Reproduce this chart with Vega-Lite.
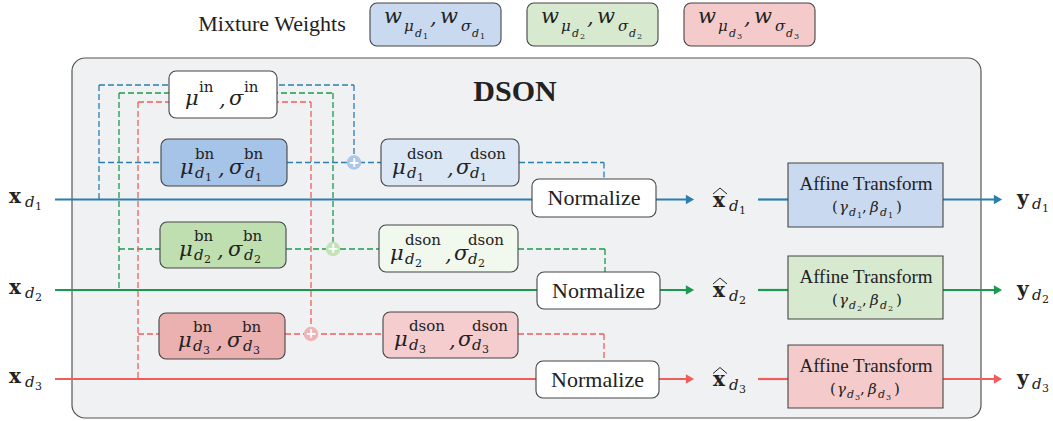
{
  "$schema": "https://vega.github.io/schema/vega-lite/v6.json",
  "width": 1053,
  "height": 421,
  "padding": 0,
  "autosize": {"type": "fit", "contains": "padding"},
  "background": "white",
  "config": {"view": {"stroke": null}, "text": {"font": "Liberation Serif"}},
  "datasets": {
    "panel": [{"x": 72, "x2": 981, "y": 58, "y2": 418}],
    "boxes": [
      {"x": 370, "x2": 501, "y": 3, "y2": 46, "kind": "mix1"},
      {"x": 527, "x2": 658, "y": 3, "y2": 46, "kind": "mix2"},
      {"x": 684, "x2": 815, "y": 3, "y2": 46, "kind": "mix3"},
      {"x": 169, "x2": 277, "y": 71, "y2": 118, "kind": "in"},
      {"x": 161, "x2": 287, "y": 139, "y2": 186, "kind": "bn1"},
      {"x": 160, "x2": 286, "y": 222, "y2": 268, "kind": "bn2"},
      {"x": 159, "x2": 285, "y": 313, "y2": 359, "kind": "bn3"},
      {"x": 381, "x2": 519, "y": 139, "y2": 186, "kind": "dson1"},
      {"x": 379, "x2": 518, "y": 225, "y2": 272, "kind": "dson2"},
      {"x": 383, "x2": 518, "y": 312, "y2": 358, "kind": "dson3"},
      {"x": 532, "x2": 656, "y": 179, "y2": 217, "kind": "norm"},
      {"x": 537, "x2": 660, "y": 272, "y2": 309, "kind": "norm"},
      {"x": 536, "x2": 659, "y": 361, "y2": 398, "kind": "norm"}
    ],
    "affine": [
      {"x": 788, "x2": 943, "y": 163, "y2": 227, "kind": "aff1"},
      {"x": 788, "x2": 943, "y": 256, "y2": 319, "kind": "aff2"},
      {"x": 788, "x2": 943, "y": 345, "y2": 408, "kind": "aff3"}
    ],
    "dash": [
      {"x": 99, "y": 85, "x2": 354, "y2": 85, "s": "b"},
      {"x": 99, "y": 85, "x2": 99, "y2": 199, "s": "b"},
      {"x": 99, "y": 162.5, "x2": 161, "y2": 162.5, "s": "b"},
      {"x": 287, "y": 162.5, "x2": 381, "y2": 162.5, "s": "b"},
      {"x": 354, "y": 85, "x2": 354, "y2": 162.5, "s": "b"},
      {"x": 519, "y": 162.5, "x2": 604, "y2": 162.5, "s": "b"},
      {"x": 604, "y": 162.5, "x2": 604, "y2": 179, "s": "b"},
      {"x": 119, "y": 93, "x2": 333, "y2": 93, "s": "g"},
      {"x": 119, "y": 93, "x2": 119, "y2": 290, "s": "g"},
      {"x": 119, "y": 249, "x2": 160, "y2": 249, "s": "g"},
      {"x": 286, "y": 249, "x2": 379, "y2": 249, "s": "g"},
      {"x": 333, "y": 93, "x2": 333, "y2": 249, "s": "g"},
      {"x": 518, "y": 249, "x2": 605, "y2": 249, "s": "g"},
      {"x": 605, "y": 249, "x2": 605, "y2": 272, "s": "g"},
      {"x": 138, "y": 102, "x2": 311, "y2": 102, "s": "r"},
      {"x": 138, "y": 102, "x2": 138, "y2": 379, "s": "r"},
      {"x": 138, "y": 334, "x2": 159, "y2": 334, "s": "r"},
      {"x": 285, "y": 334, "x2": 383, "y2": 334, "s": "r"},
      {"x": 311, "y": 102, "x2": 311, "y2": 334, "s": "r"},
      {"x": 518, "y": 334, "x2": 604, "y2": 334, "s": "r"},
      {"x": 604, "y": 334, "x2": 604, "y2": 361, "s": "r"}
    ],
    "solid": [
      {"x": 55, "y": 199.5, "x2": 687, "y2": 199.5, "s": "b"},
      {"x": 758, "y": 199.5, "x2": 788, "y2": 199.5, "s": "b"},
      {"x": 943, "y": 199.5, "x2": 995, "y2": 199.5, "s": "b"},
      {"x": 55, "y": 290, "x2": 687, "y2": 290, "s": "g"},
      {"x": 758, "y": 290, "x2": 788, "y2": 290, "s": "g"},
      {"x": 943, "y": 290, "x2": 995, "y2": 290, "s": "g"},
      {"x": 55, "y": 379, "x2": 687, "y2": 379, "s": "r"},
      {"x": 758, "y": 379, "x2": 788, "y2": 379, "s": "r"},
      {"x": 943, "y": 379, "x2": 995, "y2": 379, "s": "r"}
    ],
    "arrows": [
      {"x": 690, "y": 199.5, "s": "b"},
      {"x": 690, "y": 290, "s": "g"},
      {"x": 690, "y": 379, "s": "r"},
      {"x": 998, "y": 199.5, "s": "b"},
      {"x": 998, "y": 290, "s": "g"},
      {"x": 998, "y": 379, "s": "r"}
    ],
    "plus": [
      {"x": 354, "y": 162.5, "s": "b"},
      {"x": 333, "y": 249, "s": "g"},
      {"x": 311, "y": 334, "s": "r"}
    ],
    "hats": [
      {"x": 713, "y": 194, "x2": 720, "y2": 188},
      {"x": 720, "y": 188, "x2": 727, "y2": 194},
      {"x": 713, "y": 284, "x2": 720, "y2": 278},
      {"x": 720, "y": 278, "x2": 727, "y2": 284},
      {"x": 713, "y": 373.5, "x2": 720, "y2": 367.5},
      {"x": 720, "y": 367.5, "x2": 727, "y2": 373.5}
    ],
    "texts": [
      {"x": 272, "y": 31, "t": "Mixture Weights", "r": "lbl"},
      {"x": 515, "y": 101, "t": "DSON", "r": "title"},
      {"x": 594, "y": 205, "t": "Normalize", "r": "lbl"},
      {"x": 598.5, "y": 297.5, "t": "Normalize", "r": "lbl"},
      {"x": 597.5, "y": 386.5, "t": "Normalize", "r": "lbl"},
      {"x": 866, "y": 190, "t": "Affine Transform", "r": "aff"},
      {"x": 866, "y": 282.5, "t": "Affine Transform", "r": "aff"},
      {"x": 866, "y": 371.5, "t": "Affine Transform", "r": "aff"},

      {"x": 384, "y": 23, "t": "w", "r": "m"},
      {"x": 404, "y": 31, "t": "μ", "r": "msub"},
      {"x": 415, "y": 37, "t": "d", "r": "msub2"},
      {"x": 423, "y": 39, "t": "1", "r": "mss2"},
      {"x": 430, "y": 24, "t": ",", "r": "m"},
      {"x": 440, "y": 23, "t": "w", "r": "m"},
      {"x": 461, "y": 31, "t": "σ", "r": "msub"},
      {"x": 472, "y": 37, "t": "d", "r": "msub2"},
      {"x": 480, "y": 39, "t": "1", "r": "mss2"},
      {"x": 541, "y": 23, "t": "w", "r": "m"},
      {"x": 561, "y": 31, "t": "μ", "r": "msub"},
      {"x": 572, "y": 37, "t": "d", "r": "msub2"},
      {"x": 580, "y": 39, "t": "2", "r": "mss2"},
      {"x": 587, "y": 24, "t": ",", "r": "m"},
      {"x": 597, "y": 23, "t": "w", "r": "m"},
      {"x": 618, "y": 31, "t": "σ", "r": "msub"},
      {"x": 629, "y": 37, "t": "d", "r": "msub2"},
      {"x": 637, "y": 39, "t": "2", "r": "mss2"},
      {"x": 698, "y": 23, "t": "w", "r": "m"},
      {"x": 718, "y": 31, "t": "μ", "r": "msub"},
      {"x": 729, "y": 37, "t": "d", "r": "msub2"},
      {"x": 737, "y": 39, "t": "3", "r": "mss2"},
      {"x": 744, "y": 24, "t": ",", "r": "m"},
      {"x": 754, "y": 23, "t": "w", "r": "m"},
      {"x": 775, "y": 31, "t": "σ", "r": "msub"},
      {"x": 786, "y": 37, "t": "d", "r": "msub2"},
      {"x": 794, "y": 39, "t": "3", "r": "mss2"},

      {"x": 185, "y": 105, "t": "μ", "r": "m"},
      {"x": 199, "y": 92, "t": "in", "r": "mup"},
      {"x": 219, "y": 106, "t": ",", "r": "m"},
      {"x": 229, "y": 105, "t": "σ", "r": "m"},
      {"x": 244, "y": 92, "t": "in", "r": "mup"},

      {"x": 180, "y": 173.5, "t": "μ", "r": "m"},
      {"x": 195, "y": 158.5, "t": "bn", "r": "mup"},
      {"x": 195, "y": 177.5, "t": "d", "r": "msub"},
      {"x": 205, "y": 180.5, "t": "1", "r": "mss"},
      {"x": 218, "y": 174.5, "t": ",", "r": "m"},
      {"x": 229, "y": 173.5, "t": "σ", "r": "m"},
      {"x": 244, "y": 158.5, "t": "bn", "r": "mup"},
      {"x": 245, "y": 177.5, "t": "d", "r": "msub"},
      {"x": 255, "y": 180.5, "t": "1", "r": "mss"},
      {"x": 179, "y": 256, "t": "μ", "r": "m"},
      {"x": 194, "y": 241, "t": "bn", "r": "mup"},
      {"x": 194, "y": 260, "t": "d", "r": "msub"},
      {"x": 204, "y": 263, "t": "2", "r": "mss"},
      {"x": 217, "y": 257, "t": ",", "r": "m"},
      {"x": 228, "y": 256, "t": "σ", "r": "m"},
      {"x": 243, "y": 241, "t": "bn", "r": "mup"},
      {"x": 244, "y": 260, "t": "d", "r": "msub"},
      {"x": 254, "y": 263, "t": "2", "r": "mss"},
      {"x": 178, "y": 347, "t": "μ", "r": "m"},
      {"x": 193, "y": 332, "t": "bn", "r": "mup"},
      {"x": 193, "y": 351, "t": "d", "r": "msub"},
      {"x": 203, "y": 354, "t": "3", "r": "mss"},
      {"x": 216, "y": 348, "t": ",", "r": "m"},
      {"x": 227, "y": 347, "t": "σ", "r": "m"},
      {"x": 242, "y": 332, "t": "bn", "r": "mup"},
      {"x": 243, "y": 351, "t": "d", "r": "msub"},
      {"x": 253, "y": 354, "t": "3", "r": "mss"},

      {"x": 392, "y": 173.5, "t": "μ", "r": "m"},
      {"x": 407, "y": 158.5, "t": "dson", "r": "mup"},
      {"x": 407, "y": 177.5, "t": "d", "r": "msub"},
      {"x": 417, "y": 180.5, "t": "1", "r": "mss"},
      {"x": 447, "y": 174.5, "t": ",", "r": "m"},
      {"x": 456, "y": 173.5, "t": "σ", "r": "m"},
      {"x": 470, "y": 158.5, "t": "dson", "r": "mup"},
      {"x": 470, "y": 177.5, "t": "d", "r": "msub"},
      {"x": 480, "y": 180.5, "t": "1", "r": "mss"},
      {"x": 390, "y": 259.5, "t": "μ", "r": "m"},
      {"x": 405, "y": 244.5, "t": "dson", "r": "mup"},
      {"x": 405, "y": 263.5, "t": "d", "r": "msub"},
      {"x": 415, "y": 266.5, "t": "2", "r": "mss"},
      {"x": 445, "y": 260.5, "t": ",", "r": "m"},
      {"x": 454, "y": 259.5, "t": "σ", "r": "m"},
      {"x": 468, "y": 244.5, "t": "dson", "r": "mup"},
      {"x": 468, "y": 263.5, "t": "d", "r": "msub"},
      {"x": 478, "y": 266.5, "t": "2", "r": "mss"},
      {"x": 394, "y": 346, "t": "μ", "r": "m"},
      {"x": 409, "y": 331, "t": "dson", "r": "mup"},
      {"x": 409, "y": 350, "t": "d", "r": "msub"},
      {"x": 419, "y": 353, "t": "3", "r": "mss"},
      {"x": 449, "y": 347, "t": ",", "r": "m"},
      {"x": 458, "y": 346, "t": "σ", "r": "m"},
      {"x": 472, "y": 331, "t": "dson", "r": "mup"},
      {"x": 472, "y": 350, "t": "d", "r": "msub"},
      {"x": 482, "y": 353, "t": "3", "r": "mss"},

      {"x": 9, "y": 203, "t": "x", "r": "vec"},
      {"x": 25, "y": 207, "t": "d", "r": "msub"},
      {"x": 35, "y": 210, "t": "1", "r": "mss"},
      {"x": 9, "y": 294, "t": "x", "r": "vec"},
      {"x": 25, "y": 298, "t": "d", "r": "msub"},
      {"x": 35, "y": 301, "t": "2", "r": "mss"},
      {"x": 9, "y": 383, "t": "x", "r": "vec"},
      {"x": 25, "y": 387, "t": "d", "r": "msub"},
      {"x": 35, "y": 390, "t": "3", "r": "mss"},

      {"x": 713, "y": 206.7, "t": "x", "r": "vec"},
      {"x": 729, "y": 210.7, "t": "d", "r": "msub"},
      {"x": 739, "y": 213.7, "t": "1", "r": "mss"},
      {"x": 713, "y": 296.5, "t": "x", "r": "vec"},
      {"x": 729, "y": 300.5, "t": "d", "r": "msub"},
      {"x": 739, "y": 303.5, "t": "2", "r": "mss"},
      {"x": 713, "y": 386, "t": "x", "r": "vec"},
      {"x": 729, "y": 390, "t": "d", "r": "msub"},
      {"x": 739, "y": 393, "t": "3", "r": "mss"},

      {"x": 1017, "y": 205, "t": "y", "r": "vec"},
      {"x": 1032, "y": 209, "t": "d", "r": "msub"},
      {"x": 1042, "y": 212, "t": "1", "r": "mss"},
      {"x": 1017, "y": 295.5, "t": "y", "r": "vec"},
      {"x": 1032, "y": 299.5, "t": "d", "r": "msub"},
      {"x": 1042, "y": 302.5, "t": "2", "r": "mss"},
      {"x": 1017, "y": 384.5, "t": "y", "r": "vec"},
      {"x": 1032, "y": 388.5, "t": "d", "r": "msub"},
      {"x": 1042, "y": 391.5, "t": "3", "r": "mss"},

      {"x": 832, "y": 212, "t": "(", "r": "p"},
      {"x": 839, "y": 212, "t": "γ", "r": "pi"},
      {"x": 849, "y": 216, "t": "d", "r": "msub2"},
      {"x": 857, "y": 218, "t": "1", "r": "mss2"},
      {"x": 862, "y": 212, "t": ",", "r": "p"},
      {"x": 870, "y": 212, "t": "β", "r": "pi"},
      {"x": 880, "y": 216, "t": "d", "r": "msub2"},
      {"x": 888, "y": 218, "t": "1", "r": "mss2"},
      {"x": 896, "y": 212, "t": ")", "r": "p"},
      {"x": 832, "y": 304.5, "t": "(", "r": "p"},
      {"x": 839, "y": 304.5, "t": "γ", "r": "pi"},
      {"x": 849, "y": 308.5, "t": "d", "r": "msub2"},
      {"x": 857, "y": 310.5, "t": "2", "r": "mss2"},
      {"x": 862, "y": 304.5, "t": ",", "r": "p"},
      {"x": 870, "y": 304.5, "t": "β", "r": "pi"},
      {"x": 880, "y": 308.5, "t": "d", "r": "msub2"},
      {"x": 888, "y": 310.5, "t": "2", "r": "mss2"},
      {"x": 896, "y": 304.5, "t": ")", "r": "p"},
      {"x": 830, "y": 393.5, "t": "(", "r": "p"},
      {"x": 837, "y": 393.5, "t": "γ", "r": "pi"},
      {"x": 847, "y": 397.5, "t": "d", "r": "msub2"},
      {"x": 855, "y": 399.5, "t": "3", "r": "mss2"},
      {"x": 860, "y": 393.5, "t": ",", "r": "p"},
      {"x": 868, "y": 393.5, "t": "β", "r": "pi"},
      {"x": 878, "y": 397.5, "t": "d", "r": "msub2"},
      {"x": 886, "y": 399.5, "t": "3", "r": "mss2"},
      {"x": 894, "y": 393.5, "t": ")", "r": "p"}
    ]
  },
  "encoding": {
    "x": {"field": "x", "type": "quantitative", "scale": {"domain": [0, 1053], "nice": false, "zero": false}, "axis": null},
    "y": {"field": "y", "type": "quantitative", "scale": {"domain": [0, 421], "reverse": true, "nice": false, "zero": false}, "axis": null}
  },
  "layer": [
    {
      "data": {"name": "panel"},
      "mark": {"type": "rect", "fill": "#f0f1f3", "stroke": "#555555", "strokeWidth": 1.2, "cornerRadius": 13},
      "encoding": {"x2": {"field": "x2"}, "y2": {"field": "y2"}}
    },
    {
      "data": {"name": "dash"},
      "mark": {"type": "rule", "strokeWidth": 1.3, "strokeDash": [6, 3]},
      "encoding": {
        "x2": {"field": "x2"}, "y2": {"field": "y2"},
        "stroke": {"field": "s", "type": "nominal", "scale": {"domain": ["b", "g", "r"], "range": ["#2a7fad", "#1a9a4e", "#ef5d5d"]}, "legend": null}
      }
    },
    {
      "data": {"name": "solid"},
      "mark": {"type": "rule", "strokeWidth": 2.2},
      "encoding": {
        "x2": {"field": "x2"}, "y2": {"field": "y2"},
        "stroke": {"field": "s", "type": "nominal", "scale": {"domain": ["b", "g", "r"], "range": ["#2a7fad", "#1a9a4e", "#ef5d5d"]}, "legend": null}
      }
    },
    {
      "data": {"name": "arrows"},
      "mark": {"type": "point", "shape": "triangle-right", "filled": true, "size": 90, "opacity": 1},
      "encoding": {
        "fill": {"field": "s", "type": "nominal", "scale": {"domain": ["b", "g", "r"], "range": ["#2a7fad", "#1a9a4e", "#ef5d5d"]}, "legend": null}
      }
    },
    {
      "data": {"name": "boxes"},
      "mark": {"type": "rect", "stroke": "#444444", "strokeWidth": 1.1, "cornerRadius": 7},
      "encoding": {
        "x2": {"field": "x2"}, "y2": {"field": "y2"},
        "fill": {"field": "kind", "type": "nominal", "legend": null,
          "scale": {"domain": ["mix1", "mix2", "mix3", "in", "bn1", "bn2", "bn3", "dson1", "dson2", "dson3", "norm", "aff1", "aff2", "aff3"],
                    "range": ["#c9d9ef", "#d7eacf", "#f5caca", "#ffffff", "#a6c3e8", "#bfdfb1", "#ebb0b0", "#dbe7f5", "#f1f8ee", "#f5cdcf", "#ffffff", "#c9d9ef", "#d7eacf", "#f5caca"]}}
      }
    },
    {
      "data": {"name": "affine"},
      "mark": {"type": "rect", "stroke": "#444444", "strokeWidth": 1.1},
      "encoding": {
        "x2": {"field": "x2"}, "y2": {"field": "y2"},
        "fill": {"field": "kind", "type": "nominal", "legend": null,
          "scale": {"domain": ["aff1", "aff2", "aff3"], "range": ["#c9d9ef", "#d7eacf", "#f5caca"]}}
      }
    },
    {
      "data": {"name": "plus"},
      "mark": {"type": "point", "shape": "circle", "filled": true, "size": 210, "opacity": 1},
      "encoding": {
        "fill": {"field": "s", "type": "nominal", "scale": {"domain": ["b", "g", "r"], "range": ["#a9c6ec", "#c3e3b5", "#f0b3b3"]}, "legend": null}
      }
    },
    {
      "data": {"name": "plus"},
      "mark": {"type": "text", "text": "+", "fill": "white", "fontSize": 14, "fontWeight": "bold", "font": "DejaVu Sans", "align": "center", "baseline": "middle"},
      "encoding": {}
    },
    {
      "data": {"name": "hats"},
      "mark": {"type": "rule", "stroke": "#222222", "strokeWidth": 1},
      "encoding": {"x2": {"field": "x2"}, "y2": {"field": "y2"}}
    },
    {
      "data": {"name": "texts"},
      "transform": [{"filter": "datum.r == 'lbl'"}],
      "mark": {"type": "text", "font": "Liberation Serif", "fontSize": 22, "fill": "#222222", "align": "center", "baseline": "alphabetic"},
      "encoding": {"text": {"field": "t"}}
    },
    {
      "data": {"name": "texts"},
      "transform": [{"filter": "datum.r == 'title'"}],
      "mark": {"type": "text", "font": "Liberation Serif", "fontSize": 30, "fontWeight": "bold", "fill": "#222222", "align": "center", "baseline": "alphabetic"},
      "encoding": {"text": {"field": "t"}}
    },
    {
      "data": {"name": "texts"},
      "transform": [{"filter": "datum.r == 'aff'"}],
      "mark": {"type": "text", "font": "Liberation Serif", "fontSize": 19, "fill": "#222222", "align": "center", "baseline": "alphabetic"},
      "encoding": {"text": {"field": "t"}}
    },
    {
      "data": {"name": "texts"},
      "transform": [{"filter": "datum.r == 'm'"}],
      "mark": {"type": "text", "font": "DejaVu Serif", "fontStyle": "italic", "fontSize": 21, "fill": "#222222", "align": "left", "baseline": "alphabetic"},
      "encoding": {"text": {"field": "t"}}
    },
    {
      "data": {"name": "texts"},
      "transform": [{"filter": "datum.r == 'mup'"}],
      "mark": {"type": "text", "font": "DejaVu Serif", "fontSize": 15, "fill": "#222222", "align": "left", "baseline": "alphabetic"},
      "encoding": {"text": {"field": "t"}}
    },
    {
      "data": {"name": "texts"},
      "transform": [{"filter": "datum.r == 'msub'"}],
      "mark": {"type": "text", "font": "DejaVu Serif", "fontStyle": "italic", "fontSize": 15, "fill": "#222222", "align": "left", "baseline": "alphabetic"},
      "encoding": {"text": {"field": "t"}}
    },
    {
      "data": {"name": "texts"},
      "transform": [{"filter": "datum.r == 'mss'"}],
      "mark": {"type": "text", "font": "DejaVu Serif", "fontSize": 11, "fill": "#222222", "align": "left", "baseline": "alphabetic"},
      "encoding": {"text": {"field": "t"}}
    },
    {
      "data": {"name": "texts"},
      "transform": [{"filter": "datum.r == 'msub2'"}],
      "mark": {"type": "text", "font": "DejaVu Serif", "fontStyle": "italic", "fontSize": 11, "fill": "#222222", "align": "left", "baseline": "alphabetic"},
      "encoding": {"text": {"field": "t"}}
    },
    {
      "data": {"name": "texts"},
      "transform": [{"filter": "datum.r == 'mss2'"}],
      "mark": {"type": "text", "font": "DejaVu Serif", "fontSize": 8, "fill": "#222222", "align": "left", "baseline": "alphabetic"},
      "encoding": {"text": {"field": "t"}}
    },
    {
      "data": {"name": "texts"},
      "transform": [{"filter": "datum.r == 'vec'"}],
      "mark": {"type": "text", "font": "DejaVu Serif", "fontWeight": "bold", "fontSize": 20, "fill": "#222222", "align": "left", "baseline": "alphabetic"},
      "encoding": {"text": {"field": "t"}}
    },
    {
      "data": {"name": "texts"},
      "transform": [{"filter": "datum.r == 'p'"}],
      "mark": {"type": "text", "font": "DejaVu Serif", "fontSize": 15, "fill": "#222222", "align": "left", "baseline": "alphabetic"},
      "encoding": {"text": {"field": "t"}}
    },
    {
      "data": {"name": "texts"},
      "transform": [{"filter": "datum.r == 'pi'"}],
      "mark": {"type": "text", "font": "DejaVu Serif", "fontStyle": "italic", "fontSize": 15, "fill": "#222222", "align": "left", "baseline": "alphabetic"},
      "encoding": {"text": {"field": "t"}}
    }
  ],
  "resolve": {"scale": {"fill": "independent", "stroke": "independent"}}
}
